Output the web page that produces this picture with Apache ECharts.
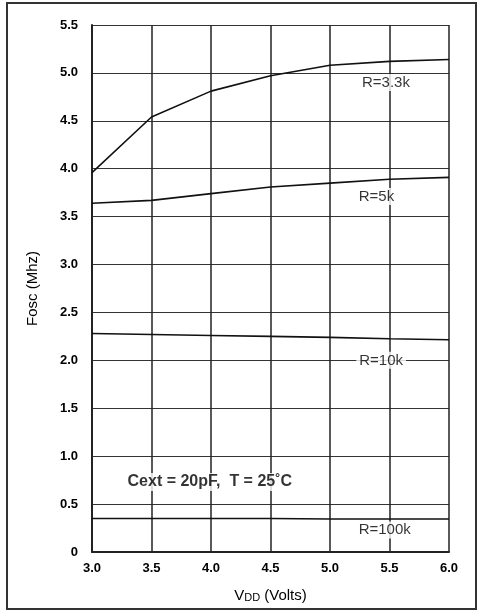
<!DOCTYPE html>
<html><head><meta charset="utf-8">
<script src="https://cdn.jsdelivr.net/npm/echarts@6/dist/echarts.min.js"></script>
<style>html,body{margin:0;padding:0;background:#fff}#c{width:477px;height:612px}</style>
</head><body><div id="c"></div>
<script>
var vdd = [3.0, 3.5, 4.0, 4.5, 5.0, 5.5, 6.0];
var r3k3 = [3.96, 4.54, 4.81, 4.97, 5.08, 5.12, 5.14];
var r5k = [3.64, 3.67, 3.74, 3.81, 3.85, 3.89, 3.91];
var r10k = [2.28, 2.27, 2.26, 2.25, 2.24, 2.225, 2.215];
var r100k = [0.35, 0.35, 0.35, 0.35, 0.345, 0.345, 0.345];
var curveLabels = ['R=3.3k', 'R=5k', 'R=10k', 'R=100k', 'Cext = 20pF,  T = 25˚C'];
var labelX = [5.47, 5.39, 5.43, 5.46, 3.99];
var labelY = [4.9, 3.71, 2.0, 0.23, 0.73];

function pairs(ys){ return vdd.map(function(x,i){ return [x, ys[i]]; }); }
var lineStyle = {color:'#111', width:1.6};
var mk = function(ys){ return {type:'line', data:pairs(ys), symbol:'none', lineStyle:lineStyle, z:5}; };
var F = 'Liberation Sans';

var chart = echarts.init(document.getElementById('c'));
chart.setOption({
  animation:false,
  backgroundColor:'#fff',
  grid:{left:92, right:28, top:25, bottom:60},
  graphic:[{type:'rect', shape:{x:7, y:3, width:469, height:606}, style:{fill:'none', stroke:'#333', lineWidth:2}, z:-1}],
  xAxis:{type:'value', min:3, max:6, interval:0.5,
    name:'{a|V}{b|DD}{a| (Volts)}', nameLocation:'middle', nameGap:36,
    nameTextStyle:{rich:{a:{fontFamily:F, fontSize:15, color:'#000'}, b:{fontFamily:F, fontSize:11, color:'#000', verticalAlign:'bottom'}}},
    axisLine:{lineStyle:{color:'#222', width:2}}, axisTick:{show:false},
    axisLabel:{margin:10, fontFamily:F, fontWeight:'bold', fontSize:13, color:'#000', formatter:function(v){return v.toFixed(1);}},
    splitLine:{show:true, lineStyle:{color:'#222', width:1.5}}},
  yAxis:{type:'value', min:0, max:5.5, interval:0.5,
    name:'Fosc (Mhz)', nameLocation:'middle', nameGap:52,
    nameTextStyle:{fontFamily:F, fontSize:15, color:'#000'},
    axisLine:{show:true, lineStyle:{color:'#222', width:2}}, axisTick:{show:false},
    axisLabel:{margin:14, fontFamily:F, fontWeight:'bold', fontSize:13, color:'#000', formatter:function(v){return v===0?'0':v.toFixed(1);}},
    splitLine:{show:true, lineStyle:{color:'#333', width:1}}},
  series:[
    mk(r3k3), mk(r5k), mk(r10k), mk(r100k),
    {type:'scatter', symbolSize:0, z:10, silent:true,
     data:curveLabels.map(function(t,i){ return {value:[labelX[i], labelY[i]], name:t,
        label:{show:true, position:'inside', formatter:t, fontFamily:F, fontSize:i===4?16:15,
          fontWeight:i===4?'bold':'normal', color:'#000', backgroundColor:'#fff', padding:[1,3]}}; })}
  ]
});
</script></body></html>
